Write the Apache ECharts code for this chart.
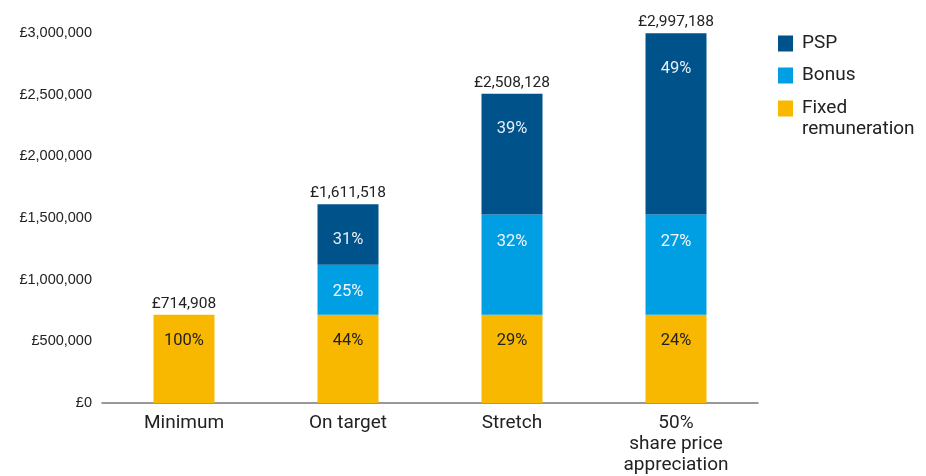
<!DOCTYPE html>
<html>
<head>
<meta charset="utf-8">
<script src="https://cdn.jsdelivr.net/npm/echarts@6/dist/echarts.min.js"></script>
<style>html,body{margin:0;padding:0;background:#fff}#c{width:926px;height:476px}</style>
</head>
<body>
<div id="c"></div>
<script>
var categories = ['Minimum', 'On target', 'Stretch', '50%\nshare price\nappreciation'];
var fixedValues = [714908, 714908, 714908, 714908];
var bonusValues = [null, 406000, 814000, 814000];
var pspValues = [null, 490610, 979220, 1468280];
var totalValues = [714908, 1611518, 2508128, 2997188];
var fixedPct = ['100%', '44%', '29%', '24%'];
var bonusPct = ['', '25%', '32%', '27%'];
var pspPct = ['', '31%', '39%', '49%'];
var yTicks = { min: 0, max: 3000000, interval: 500000 };

var COL_PSP = '#00528b', COL_BONUS = '#009fe3', COL_FIXED = '#f9b800';
var FONT = 'Roboto, "Noto Sans", sans-serif';

function gbp(v) { return '£' + Number(v).toLocaleString('en-GB'); }

var chart = echarts.init(document.getElementById('c'), null, { renderer: 'canvas' });
chart.setOption({
  animation: false,
  grid: { left: 102, right: 168, top: 33, bottom: 66, containLabel: false },
  legend: [{
    data: ['PSP', 'Bonus'],
    orient: 'vertical', left: 778, top: 33, padding: 0,
    itemWidth: 15, itemHeight: 16, itemGap: 11,
    icon: 'rect', selectedMode: false,
    textStyle: { fontFamily: FONT, fontSize: 19, color: '#222', lineHeight: 21, padding: [0, 0, 0, 4] }
  }, {
    data: ['Fixed remuneration'],
    orient: 'vertical', left: 778, top: 77, padding: 0,
    itemWidth: 15, itemHeight: 16,
    icon: 'rect', selectedMode: false,
    formatter: function () { return ' \nFixed\nremuneration'; },
    textStyle: { fontFamily: FONT, fontSize: 19, color: '#222', lineHeight: 21, padding: [0, 0, 0, 4] }
  }],
  xAxis: {
    type: 'category',
    data: categories,
    axisLine: { lineStyle: { color: '#777', width: 1.5 } },
    axisTick: { show: false },
    axisLabel: { fontFamily: FONT, fontSize: 19, color: '#222', lineHeight: 21, margin: 10, interval: 0 }
  },
  yAxis: {
    type: 'value',
    min: yTicks.min, max: yTicks.max, interval: yTicks.interval,
    axisLine: { show: false },
    axisTick: { show: false },
    splitLine: { show: false },
    axisLabel: { fontFamily: '"Liberation Sans", Arial, sans-serif', fontSize: 14.5, color: '#222', margin: 10,
      formatter: function (v) { return gbp(v); } }
  },
  series: [{
    name: 'Fixed remuneration', type: 'bar', stack: 'pay', barWidth: 61,
    data: fixedValues, itemStyle: { color: COL_FIXED },
    label: { show: true, position: 'insideTop', distance: 18, fontFamily: FONT, fontSize: 16.5, color: '#222',
      formatter: function (p) { return fixedPct[p.dataIndex]; } }
  }, {
    name: 'Bonus', type: 'bar', stack: 'pay', barWidth: 61,
    data: bonusValues, itemStyle: { color: COL_BONUS },
    label: { show: true, position: 'insideTop', distance: 19, fontFamily: FONT, fontSize: 16.5, color: '#f2f7fb',
      formatter: function (p) { return bonusPct[p.dataIndex]; } }
  }, {
    name: 'PSP', type: 'bar', stack: 'pay', barWidth: 61,
    data: pspValues, itemStyle: { color: COL_PSP },
    label: { show: true, position: 'insideTop', distance: 27, fontFamily: FONT, fontSize: 16.5, color: '#e8eef5',
      formatter: function (p) { return pspPct[p.dataIndex]; } }
  }, {
    name: 'Total', type: 'bar', barWidth: 61, barGap: '-100%', z: 1,
    data: totalValues, itemStyle: { color: 'rgba(0,0,0,0)' },
    label: { show: true, position: 'top', distance: 3, fontFamily: FONT, fontSize: 15.5, color: '#222',
      formatter: function (p) { return gbp(p.value); } }
  }]
});
</script>
</body>
</html>
